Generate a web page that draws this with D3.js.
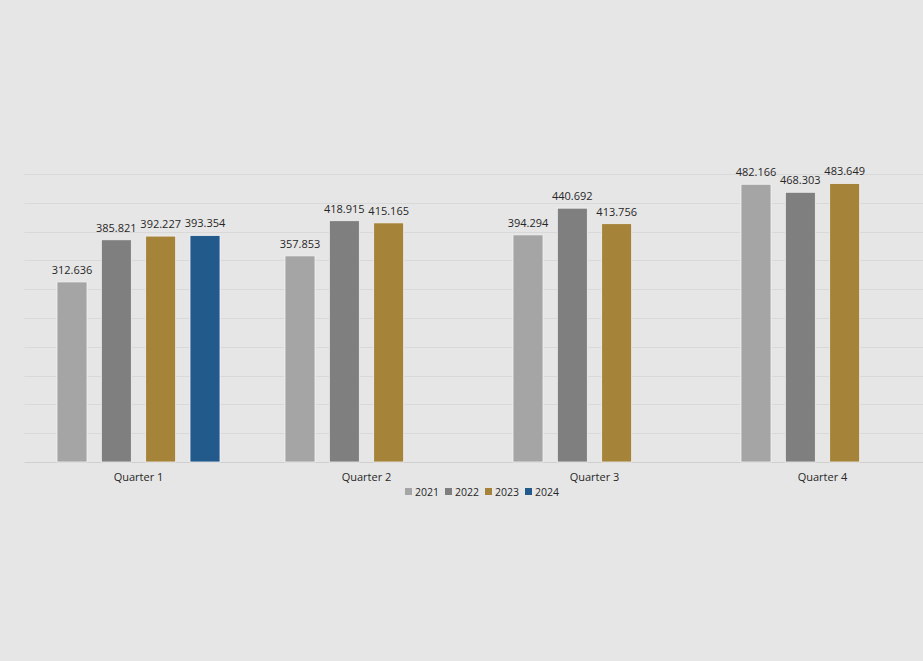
<!DOCTYPE html>
<html><head><meta charset="utf-8">
<script src="https://cdn.jsdelivr.net/npm/d3@7"></script>
<style>
html,body{margin:0;padding:0;background:#e7e6e6;}
svg{display:block;}
text{font-family:"Open Sans","Noto Sans",sans-serif;fill:#262626;}
</style></head>
<body><svg id="c" width="923" height="661"></svg>
<script>
const categories = ["Quarter 1","Quarter 2","Quarter 3","Quarter 4"];
const seriesNames = ["2021","2022","2023","2024"];
const v2021 = [312.636, 357.853, 394.294, 482.166];
const v2022 = [385.821, 418.915, 440.692, 468.303];
const v2023 = [392.227, 415.165, 413.756, 483.649];
const v2024 = [393.354, null, null, null];
const colors = ["#a5a5a5","#7f7f7f","#a5843a","#225a8c"];
const yTicks = [0,50,100,150,200,250,300,350,400,450,500];

(function(){
const series = [v2021, v2022, v2023, v2024];
const svg = d3.select("#c");
const W = 923, H = 661;
svg.append("rect").attr("width",W).attr("height",H).attr("fill","#e7e6e6");

const pL = 24.5, pR = 936.5, pT = 174, pB = 462;
const x = d3.scaleBand().domain(categories).range([pL,pR]).padding(0);
const xi = d3.scaleBand().domain(seriesNames).range([32.5, 195.5]).paddingInner(0.3233).paddingOuter(0);
const y = d3.scaleLinear().domain([0,500]).range([pB, pT]);

svg.append("g").selectAll("line").data(yTicks).join("line")
  .attr("x1", pL).attr("x2", W)
  .attr("y1", d=>Math.round(y(d))+0.5).attr("y2", d=>Math.round(y(d))+0.5)
  .attr("stroke", d=> d===0 ? "#d0cfcf" : "#dad9d9").attr("stroke-width",1);

const data = [];
categories.forEach((c,ci)=>{
  seriesNames.forEach((s,si)=>{
    const v = series[si][ci];
    if (v!=null) data.push({c, s, si, v});
  });
});
const g = svg.append("g");
g.selectAll("rect").data(data).join("rect")
  .attr("x", d=>x(d.c)+xi(d.s))
  .attr("y", d=>y(d.v))
  .attr("width", xi.bandwidth())
  .attr("height", d=>y(0)-y(d.v))
  .attr("fill", d=>colors[d.si])
  .attr("stroke","#f2f2f2").attr("stroke-width",0.8);

g.selectAll("text").data(data).join("text")
  .attr("x", d=>x(d.c)+xi(d.s)+xi.bandwidth()/2)
  .attr("y", d=>y(d.v)-8)
  .attr("text-anchor","middle")
  .attr("font-size","11px")
  .text(d=>d.v.toFixed(3));

const xAxis = d3.axisBottom(x).tickSize(0).tickPadding(0);
const ax = svg.append("g").attr("transform",`translate(0,${pB})`).call(xAxis);
ax.select(".domain").remove();
ax.selectAll("text").attr("font-size","11px").attr("dy","0").attr("y",19)
  .attr("font-family","Open Sans, Noto Sans, sans-serif").attr("fill","#262626");

const lx = d3.scaleBand().domain(seriesNames).range([405,565]);
const lg = svg.append("g").selectAll("g").data(seriesNames).join("g")
  .attr("transform", d=>`translate(${lx(d)},492)`);
lg.append("rect").attr("x",0).attr("y",-4).attr("width",7).attr("height",7)
  .attr("fill",(d,i)=>colors[i]);
lg.append("text").attr("x",10).attr("y",4).attr("font-size","10.5px").text(d=>d);
})();
</script></body></html>
